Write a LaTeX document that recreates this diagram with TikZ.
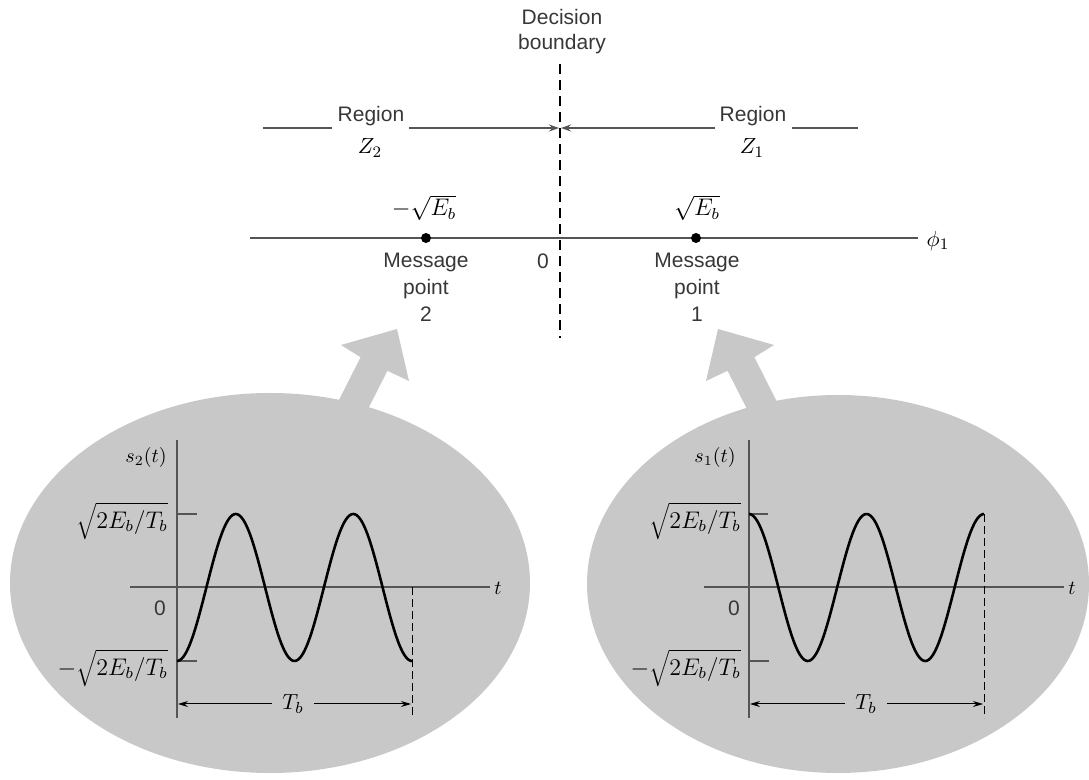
\documentclass[tikz,border=0pt]{standalone}
\usepackage{fontspec}
\setmainfont{Liberation Sans}
\usetikzlibrary{arrows.meta}
\definecolor{ellgray}{RGB}{200,200,200}
\definecolor{axgray}{RGB}{85,85,85}
\definecolor{txtgray}{RGB}{55,55,55}
\begin{document}
\begin{tikzpicture}[x=0.5pt,y=-0.5pt,
  txt/.style={font=\fontsize{10.5}{13.5}\selectfont, text=txtgray, inner sep=0pt, align=center},
  mth/.style={font=\fontsize{12}{14}\selectfont, inner sep=0pt},
  smth/.style={font=\fontsize{10}{12}\selectfont, inner sep=0pt},
  dot/.style={circle, fill=black, inner sep=0pt, minimum size=5pt},
  dashline/.style={line width=0.9pt, dash pattern=on 5pt off 3pt},
  regline/.style={line width=0.6pt, draw=axgray},
  regarrow/.style={regline, -{Stealth[length=5pt,width=3.5pt]}},
  phiaxis/.style={line width=1.4pt, draw=axgray},
  plotaxis/.style={line width=1.1pt, draw=axgray},
  wave/.style={line width=1.3pt, black},
  tick/.style={line width=0.7pt, draw=axgray},
  thin dash/.style={line width=0.5pt, dash pattern=on 4pt off 2pt},
  dim/.style={line width=0.5pt, -{Stealth[length=5pt,width=3pt]}},
  bigarrow/.style={fill=ellgray}
]
\useasboundingbox (0,0) rectangle (1089,780);

% fat arrows and ellipses
\fill[bigarrow] (397,329) -- (409,381) -- (387.4,370.8) -- (351.4,442) -- (324.6,428.4) -- (360.6,357.2) -- (341,345) -- cycle;
\fill[bigarrow] (718,329) -- (706,381) -- (727.6,370.8) -- (763.6,442) -- (790.4,428.4) -- (754.4,357.2) -- (774,345) -- cycle;
\fill[ellgray] (270,583) ellipse [x radius=130pt, y radius=95pt];
\fill[ellgray] (838,584) ellipse [x radius=125.5pt, y radius=94.5pt];

% decision boundary
\node[txt, font=\fontsize{10.5}{12.5}\selectfont] (dec) at (562,32) {Decision\\boundary};
\coordinate (dbtop) at (560,64);
\coordinate (dbbot) at (560,338);
\draw[dashline] (dbtop) -- (dbbot);

% regions
\node[txt] (reg2) at (371,116) {Region};
\node[smth, font=\fontsize{11}{13}\selectfont] (z2) at (370,148) {$Z_2$};
\node[txt] (reg1) at (753,116) {Region};
\node[smth, font=\fontsize{11}{13}\selectfont] (z1) at (752,148) {$Z_1$};
\coordinate (l2a) at (263,128);
\coordinate (l2b) at (332,128);
\coordinate (l2c) at (409,128);
\coordinate (db2) at (559,128);
\coordinate (db1) at (561,128);
\coordinate (l1a) at (715,128);
\coordinate (l1b) at (792,128);
\coordinate (l1c) at (858,128);
\draw[regline] (l2a) -- (l2b);
\draw[regarrow] (l2c) -- (db2);
\draw[regarrow] (l1a) -- (db1);
\draw[regline] (l1b) -- (l1c);

% phi axis
\coordinate (ax0) at (250,238);
\coordinate (ax1) at (918,238);
\draw[phiaxis] (ax0) -- (ax1);
\node[mth, font=\fontsize{11}{13}\selectfont] (phi) at (938,241) {$\phi_1$};
\node[dot] (mp2) at (426,238) {};
\node[dot] (mp1) at (696,238) {};
\node[mth] (e2) at (424,208) {$-\sqrt{E_b}$};
\node[mth] (e1) at (697,208) {$\sqrt{E_b}$};
\node[txt] (m2) at (426,287) {Message\\point\\2};
\node[txt] (m1) at (697,287) {Message\\point\\1};
\node[txt] (zero) at (543,261) {0};

% left plot: s2(t)
\coordinate (ya2t) at (177,440);
\coordinate (ya2b) at (177,718);
\coordinate (ta2l) at (130,587);
\coordinate (ta2r) at (490,587);
\draw[plotaxis] (ya2t) -- (ya2b);
\draw[plotaxis] (ta2l) -- (ta2r);
\node[smth] (t2) at (498,588) {$t$};
\node[smth] (s2) at (146,458) {$s_2(t)$};
\node[mth, anchor=east] (p2) at (168,521) {$\sqrt{2E_b/T_b}$};
\node[mth, anchor=east] (n2) at (168,668) {$-\sqrt{2E_b/T_b}$};
\node[txt] (o2) at (160,608) {0};
\coordinate (tk2a) at (177,514); \coordinate (tk2b) at (197,514);
\coordinate (tk2c) at (177,661); \coordinate (tk2d) at (197,661);
\draw[tick] (tk2a) -- (tk2b);
\draw[tick] (tk2c) -- (tk2d);
\draw[wave] plot[domain=0:235, samples=150, smooth] ({177+\x}, {587.5 + 73.5*cos(3.06383*\x)});
\coordinate (dd2t) at (412,587); \coordinate (dd2b) at (412,718);
\draw[thin dash] (dd2t) -- (dd2b);
\node[mth, font=\fontsize{11}{13}\selectfont, inner sep=5pt] (tb2) at (293,704) {$T_b$};
\coordinate (tb2l) at (178,704); \coordinate (tb2r) at (411,704);
\draw[dim] (tb2.west) -- (tb2l);
\draw[dim] (tb2.east) -- (tb2r);

% right plot: s1(t)
\coordinate (ya1t) at (749,440);
\coordinate (ya1b) at (749,718);
\coordinate (ta1l) at (704,587);
\coordinate (ta1r) at (1064,587);
\draw[plotaxis] (ya1t) -- (ya1b);
\draw[plotaxis] (ta1l) -- (ta1r);
\node[smth] (t1) at (1072,588) {$t$};
\node[smth] (s1) at (715,458) {$s_1(t)$};
\node[mth, anchor=east] (p1) at (741,521) {$\sqrt{2E_b/T_b}$};
\node[mth, anchor=east] (n1) at (741,668) {$-\sqrt{2E_b/T_b}$};
\node[txt] (o1) at (734,608) {0};
\coordinate (tk1a) at (749,514); \coordinate (tk1b) at (768,514);
\coordinate (tk1c) at (749,661); \coordinate (tk1d) at (769,661);
\draw[tick] (tk1a) -- (tk1b);
\draw[tick] (tk1c) -- (tk1d);
\draw[wave] plot[domain=0:235, samples=150, smooth] ({749+\x}, {587.5 - 73.5*cos(3.06383*\x)});
\coordinate (dd1t) at (984,514); \coordinate (dd1b) at (984,718);
\draw[thin dash] (dd1t) -- (dd1b);
\node[mth, font=\fontsize{11}{13}\selectfont, inner sep=5pt] (tb1) at (866,704) {$T_b$};
\coordinate (tb1l) at (750,704); \coordinate (tb1r) at (983,704);
\draw[dim] (tb1.west) -- (tb1l);
\draw[dim] (tb1.east) -- (tb1r);
\end{tikzpicture}
\end{document}
